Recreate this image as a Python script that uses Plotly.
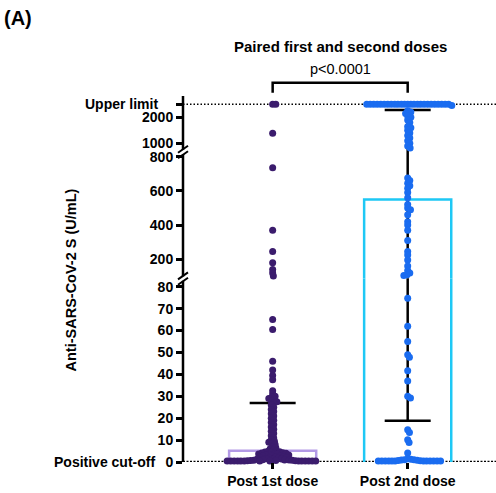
import numpy as np
import plotly.graph_objects as go

# ---------------- data ----------------
groups = ["Post 1st dose", "Post 2nd dose"]

dose1 = [2500, 2500, 1385, 735, 370, 245, 180, 140, 120, 102,
         65, 60.5, 46, 42, 39.5, 37.5, 32.5, 31,
         30, 29.5, 29, 28.5, 28, 27.5, 27,
         26, 25, 24, 23, 22, 21, 20, 19, 18, 17, 16, 15, 14, 13, 12,
         11, 10, 9.5, 9, 8.5, 8, 7, 6.5, 6, 5.5,
         5.0, 4.85, 4.7, 4.55, 4.4, 4.25, 4.1, 3.95, 3.8, 3.65,
         3.5, 3.35, 3.2, 3.05, 2.9, 2.75, 2.6, 2.45, 2.3, 2.15,
         2.0, 1.85, 1.7, 1.55, 1.4, 1.3, 1.2, 1.0, 0.9, 0.9,
         0.8, 0.8, 0.7, 0.7, 0.6, 0.6, 0.5, 0.5, 0.4, 0.4,
         0.4, 0.4, 0.4, 0.4, 0.4, 0.4, 0.4, 0.4, 0.4, 0.4]

dose2 = [2500] * 25 + [2450,
         2250, 2200, 2150, 2050, 2000, 1900, 1800, 1650, 1600,
         1500, 1400, 1300, 1200, 1100, 1000, 900, 820,
         675, 660, 645, 630, 615, 590, 560, 520, 500, 490, 460, 420,
         400, 370, 310, 245, 225, 195, 160, 135, 120, 110, 105,
         74.7, 62, 55, 49, 47.8, 41.7, 37, 30, 29.2, 14.7, 13.5, 10.2, 8.9, 4.1,
         1.5, 1.2, 1, 1, 0.9, 0.8, 0.7, 0.6, 0.5, 0.5,
         0.4, 0.4, 0.4, 0.4, 0.4, 0.4, 0.4, 0.4, 0.4, 0.4]

medians = [5.1, 550]
q1 = [0.4, 18.8]
q3 = [26.9, 2280]

upper_limit = 2500
cutoff = 0
p_text = "p<0.0001"

seg1_ticks = [0, 10, 20, 30, 40, 50, 60, 70, 80]
seg2_ticks = [200, 400, 600, 800]
seg3_ticks = [1000, 2000, 2500]
seg3_ticktext = ["1000", "2000", ""]

# ---------------- layout geometry ----------------
W, H = 496, 493
ML, MR, MT, MB = 183, 0, 96, 31
PW = W - ML - MR
PH = H - MT - MB
YB = H - MB  # page pixel of plot bottom

seg_ranges = [(0, 83.7), (87, 827), (665, 2819)]
seg_pix = [(YB, 278.6), (278.6, 152.0), (152.0, MT)]
seg_doms = [((YB - b) / PH, (YB - t) / PH) for b, t in seg_pix]
seg_limits = [83.7, 810, 1e9]
XR = [-0.664, 1.654]
XPX = PW / (XR[1] - XR[0])

C1 = "#3b1c6d"
C2 = "#1a6cf0"
BAR1 = "#b39ae6"
BAR2 = "#1ec8f5"
FONT = "Liberation Sans, Arial, sans-serif"


def seg_of(v):
    for i, lim in enumerate(seg_limits):
        if v <= lim:
            return i
    return 2


def v2p(v):
    s = seg_of(v)
    lo, hi = seg_ranges[s]
    b, t = seg_pix[s]
    return b - (v - lo) / (hi - lo) * (b - t)


def swarm(vals, dmin=3.15, step=0.35):
    vals = np.asarray(vals, dtype=float)
    order = np.argsort(-vals, kind="stable")
    placed = []
    offs = np.zeros(len(vals))
    for i in order:
        py = v2p(vals[i])
        k = 0
        done = False
        while not done:
            for sgn in ([1] if k == 0 else [1, -1]):
                dx = sgn * k * step
                if all((dx - qx) ** 2 + (py - qy) ** 2 >= dmin ** 2 for qx, qy in placed):
                    placed.append((dx, py))
                    offs[i] = dx / XPX
                    done = True
                    break
            k += 1
    return offs


def px_x(px):
    return (px - ML) / PW


def px_y(py):
    return (YB - py) / PH


fig = go.Figure()
yrefs = ["y", "y2", "y3"]

# bars (median)
for s in range(3):
    fig.add_trace(go.Bar(
        x=[0, 1], y=[m + 1 for m in medians], base=[-1, -1], width=0.645,
        marker=dict(color="rgba(0,0,0,0)", line=dict(color=[BAR1, BAR2], width=2.5)),
        yaxis=yrefs[s], xaxis="x", showlegend=False, hoverinfo="skip"))

# error bars (IQR)
cap = 23 / XPX
for g in range(2):
    for s in range(3):
        fig.add_trace(go.Scatter(
            x=[g, g, None, g - cap, g + cap, None, g - cap, g + cap],
            y=[q1[g], q3[g], None, q1[g], q1[g], None, q3[g], q3[g]],
            mode="lines", line=dict(color="black", width=2.5),
            yaxis=yrefs[s], xaxis="x", showlegend=False, hoverinfo="skip"))

# points
for g, (vals, col) in enumerate([(dose1, C1), (dose2, C2)]):
    offs = swarm(vals)
    for s in range(3):
        idx = [i for i, v in enumerate(vals) if seg_of(v) == s]
        if not idx:
            continue
        fig.add_trace(go.Scatter(
            x=[g + offs[i] for i in idx], y=[vals[i] for i in idx],
            mode="markers", marker=dict(color=col, size=7, line=dict(width=0)),
            cliponaxis=False, yaxis=yrefs[s], xaxis="x", showlegend=False))

tickfont = dict(family=FONT, size=14, color="black", weight="bold")
common_y = dict(showgrid=False, zeroline=False, showline=False, ticks="outside",
                ticklen=6, tickwidth=2.5, tickcolor="black", tickfont=tickfont,
                anchor="x", fixedrange=True)

fig.update_layout(
    width=W, height=H,
    margin=dict(l=ML, r=MR, t=MT, b=MB, pad=0),
    paper_bgcolor="white", plot_bgcolor="rgba(0,0,0,0)",
    showlegend=False, barmode="overlay",
    xaxis=dict(range=XR, tickvals=[0, 1], ticktext=groups, showgrid=False,
               zeroline=False, showline=False, ticks="outside", ticklen=6,
               tickwidth=2.5, tickcolor="black", tickfont=tickfont, fixedrange=True),
    yaxis=dict(domain=list(seg_doms[0]), range=list(seg_ranges[0]), tickvals=seg1_ticks, **common_y),
    yaxis2=dict(domain=list(seg_doms[1]), range=list(seg_ranges[1]), tickvals=seg2_ticks, **common_y),
    yaxis3=dict(domain=[seg_doms[2][0], 1], range=list(seg_ranges[2]), tickvals=seg3_ticks,
                ticktext=seg3_ticktext, **common_y),
)

shapes = []
# dotted reference lines
shapes.append(dict(type="line", xref="paper", x0=0, x1=1, yref="y3", y0=upper_limit, y1=upper_limit,
                   line=dict(color="black", width=1.5, dash="1.5px,2px"), layer="below"))
shapes.append(dict(type="line", xref="paper", x0=0, x1=1, yref="y", y0=cutoff, y1=cutoff,
                   line=dict(color="black", width=2.5, dash="2px,1.5px"), layer="below"))
# y axis line
shapes.append(dict(type="line", xref="paper", yref="paper", x0=0, x1=0, y0=0, y1=1,
                   line=dict(color="black", width=2.5)))
# break marks
for yb in [seg_pix[0][1], seg_pix[1][1]]:
    shapes.append(dict(type="rect", xref="paper", yref="paper",
                       x0=px_x(ML - 3), x1=px_x(ML + 3), y0=px_y(yb + 2.2), y1=px_y(yb - 2.2),
                       fillcolor="white", line=dict(width=0)))
    for yc in [yb - 2.7, yb + 2.7]:
        shapes.append(dict(type="line", xref="paper", yref="paper",
                           x0=px_x(ML - 5), y0=px_y(yc + 3.5), x1=px_x(ML + 5), y1=px_y(yc - 3.5),
                           line=dict(color="black", width=2)))
# significance bracket
shapes.append(dict(type="path", xref="x", yref="paper",
                   path=f"M0,{px_y(92.7)} L0,{px_y(82.7)} L1,{px_y(82.7)} L1,{px_y(92.7)}",
                   line=dict(color="black", width=2.5)))
fig.update_layout(shapes=shapes)

ann = []
ann.append(dict(text="Upper limit", xref="paper", x=px_x(160), xanchor="right",
                yref="y3", y=upper_limit, yanchor="middle", showarrow=False,
                font=dict(family=FONT, size=14, color="black", weight="bold")))
ann.append(dict(text="Positive cut-off", xref="paper", x=px_x(157), xanchor="right",
                yref="y", y=cutoff, yanchor="middle", showarrow=False,
                font=dict(family=FONT, size=14, color="black", weight="bold")))
ann.append(dict(text="Anti-SARS-CoV-2 S (U/mL)", xref="paper", x=px_x(70), xanchor="center",
                yref="paper", y=px_y(279.5), yanchor="middle", textangle=-90, showarrow=False,
                font=dict(family=FONT, size=14.5, color="black", weight="bold")))
ann.append(dict(text="Paired first and second doses", xref="paper", x=px_x(340), xanchor="center",
                yref="paper", y=px_y(46), yanchor="middle", showarrow=False,
                font=dict(family=FONT, size=15, color="black", weight="bold")))
ann.append(dict(text="(A)", xref="paper", x=px_x(2), xanchor="left",
                yref="paper", y=px_y(18), yanchor="middle", showarrow=False,
                font=dict(family=FONT, size=20, color="black", weight="bold")))
ann.append(dict(text=p_text, xref="x", x=0.5, xanchor="center",
                yref="paper", y=px_y(69), yanchor="middle", showarrow=False,
                font=dict(family=FONT, size=14.5, color="black")))
fig.update_layout(annotations=ann)

fig.write_html("out.html", config={"displayModeBar": False},
               post_script="document.body.style.margin='0';")
